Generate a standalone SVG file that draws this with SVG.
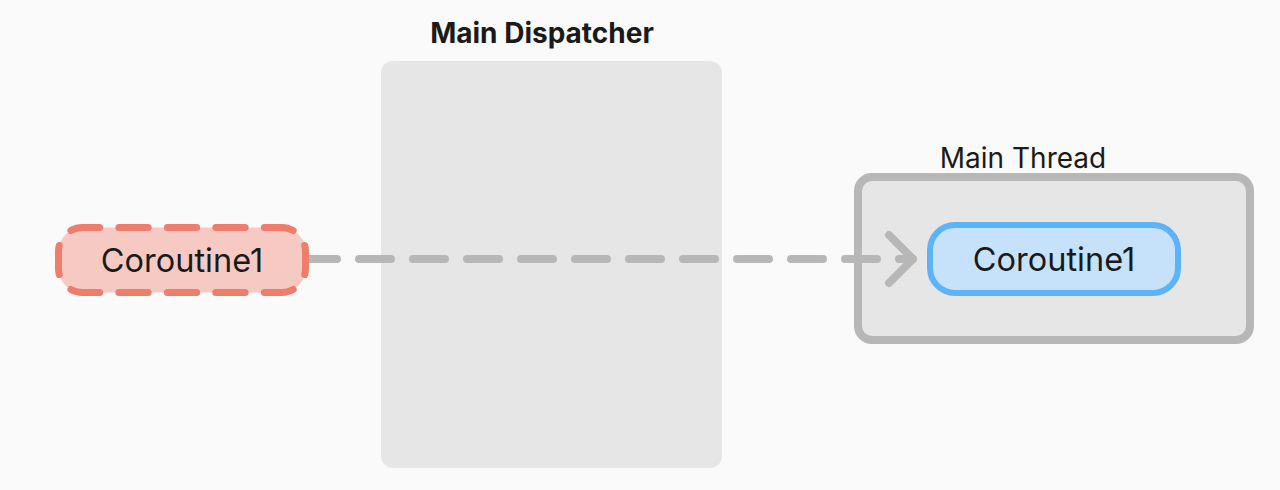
<svg xmlns="http://www.w3.org/2000/svg" width="1280" height="490" viewBox="0 0 1280 490">
  <defs>
    <style>
      .label { font-family: Inter, "Liberation Sans", sans-serif; fill: #1a1a1a; }
      .title { font-size: 28px; font-weight: 700; }
      .sub { font-size: 28px; font-weight: 400; }
      .node-text { font-size: 32.5px; font-weight: 400; }
      .conn { fill: none; stroke: #b7b7b7; stroke-width: 8; stroke-linecap: round; stroke-linejoin: round; }
    </style>
    <marker id="chev" markerUnits="userSpaceOnUse" markerWidth="40" markerHeight="60" refX="0" refY="0" viewBox="-30 -30 40 60" orient="auto" overflow="visible">
      <path d="M-24,-24 L0,0 L-24,24" fill="none" stroke="#b7b7b7" stroke-width="8" stroke-linecap="round" stroke-linejoin="round" stroke-dasharray="none"/>
    </marker>
  </defs>
  <rect x="0" y="0" width="1280" height="490" fill="#fafafa"/>

  <g id="main-dispatcher">
    <rect x="381" y="61" width="341" height="407" rx="12" fill="#e6e6e6"/>
    <text class="label title" x="542" y="43" text-anchor="middle">Main Dispatcher</text>
  </g>

  <g id="main-thread">
    <rect x="858" y="177" width="392" height="163" rx="14" fill="#e6e6e6" stroke="#b7b7b7" stroke-width="8"/>
    <text class="label sub" x="1023" y="168" text-anchor="middle">Main Thread</text>
  </g>

  <g id="connectors">
    <path class="conn" d="M305,259 L913,259" stroke-dasharray="32 22" marker-end="url(#chev)"/>
  </g>

  <g id="coroutine1-source">
    <path d="M182,227.5 L281.5,227.5 A24,24 0 0 1 305.5,251.5 L305.5,268.5 A24,24 0 0 1 281.5,292.5 L82.5,292.5 A24,24 0 0 1 58.5,268.5 L58.5,251.5 A24,24 0 0 1 82.5,227.5 Z" fill="#f6c9c3" stroke="#ee7d6b" stroke-width="7" stroke-linecap="round" pathLength="576" stroke-dasharray="29 19" stroke-dashoffset="14.5"/>
    <text class="label node-text" x="182" y="272" text-anchor="middle">Coroutine1</text>
  </g>

  <g id="coroutine1-target">
    <rect x="930" y="225" width="248" height="68" rx="25" fill="#c6e2fb" stroke="#5cb3f7" stroke-width="6"/>
    <text class="label node-text" x="1054" y="271" text-anchor="middle">Coroutine1</text>
  </g>
</svg>
